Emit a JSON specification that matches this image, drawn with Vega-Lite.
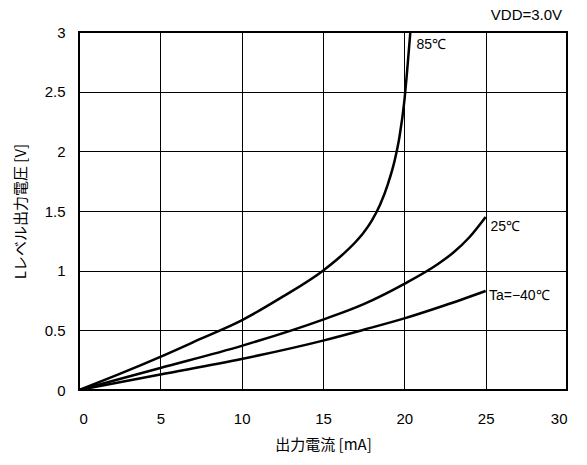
{
  "$schema": "https://vega.github.io/schema/vega-lite/v6.json",
  "width": 488,
  "height": 358,
  "autosize": "none",
  "padding": {"left": 79, "top": 32, "right": 20, "bottom": 75},
  "background": "white",
  "config": {
    "view": {"stroke": "black", "strokeWidth": 2},
    "axis": {
      "grid": true,
      "gridColor": "black",
      "gridOpacity": 1,
      "gridWidth": 1,
      "domain": false,
      "ticks": false,
      "labelFont": "Liberation Sans",
      "labelFontSize": 15,
      "labelColor": "black",
      "titleFont": "Noto Sans CJK JP",
      "titleFontSize": 15,
      "titleFontWeight": "normal",
      "titleColor": "black"
    }
  },
  "datasets": {
    "curves": [
      {"series": "85", "current": 0, "voltage": 0},
      {"series": "85", "current": 2.5, "voltage": 0.135},
      {"series": "85", "current": 5, "voltage": 0.278},
      {"series": "85", "current": 7.5, "voltage": 0.43},
      {"series": "85", "current": 10, "voltage": 0.584},
      {"series": "85", "current": 12.5, "voltage": 0.78},
      {"series": "85", "current": 15, "voltage": 1.0},
      {"series": "85", "current": 16, "voltage": 1.11},
      {"series": "85", "current": 17, "voltage": 1.24},
      {"series": "85", "current": 17.5, "voltage": 1.32},
      {"series": "85", "current": 18, "voltage": 1.42},
      {"series": "85", "current": 18.5, "voltage": 1.55},
      {"series": "85", "current": 19, "voltage": 1.73},
      {"series": "85", "current": 19.4, "voltage": 1.92},
      {"series": "85", "current": 19.7, "voltage": 2.12},
      {"series": "85", "current": 20, "voltage": 2.42},
      {"series": "85", "current": 20.2, "voltage": 2.72},
      {"series": "85", "current": 20.37, "voltage": 3.0},
      {"series": "25", "current": 0, "voltage": 0},
      {"series": "25", "current": 5, "voltage": 0.185},
      {"series": "25", "current": 10, "voltage": 0.37},
      {"series": "25", "current": 15, "voltage": 0.59},
      {"series": "25", "current": 17.5, "voltage": 0.72},
      {"series": "25", "current": 20, "voltage": 0.89},
      {"series": "25", "current": 22, "voltage": 1.05},
      {"series": "25", "current": 23, "voltage": 1.15},
      {"series": "25", "current": 24, "voltage": 1.28},
      {"series": "25", "current": 25, "voltage": 1.45},
      {"series": "-40", "current": 0, "voltage": 0},
      {"series": "-40", "current": 5, "voltage": 0.13},
      {"series": "-40", "current": 10, "voltage": 0.26},
      {"series": "-40", "current": 15, "voltage": 0.414},
      {"series": "-40", "current": 17.5, "voltage": 0.505},
      {"series": "-40", "current": 20, "voltage": 0.6},
      {"series": "-40", "current": 22.5, "voltage": 0.71},
      {"series": "-40", "current": 25, "voltage": 0.83}
    ],
    "notes": [
      {"text": "85℃", "current": 20.75, "voltage": 2.89, "anchor": "left"},
      {"text": "25℃", "current": 25.3, "voltage": 1.37, "anchor": "left"},
      {"text": "Ta=−40℃", "current": 25.2, "voltage": 0.79, "anchor": "left"},
      {"text": "VDD=3.0V", "current": 29.7, "voltage": 3.14, "anchor": "right"}
    ]
  },
  "layer": [
    {
      "data": {"name": "curves"},
      "mark": {"type": "line", "color": "black", "strokeWidth": 2.5, "clip": true, "interpolate": "monotone"},
      "encoding": {
        "x": {
          "field": "current",
          "type": "quantitative",
          "scale": {"domain": [0, 30], "nice": false},
          "axis": {
            "values": [0, 5, 10, 15, 20, 25, 30],
            "format": "~g",
            "labelPadding": 21,
            "title": "出力電流 [mA]",
            "titlePadding": 11
          }
        },
        "y": {
          "field": "voltage",
          "type": "quantitative",
          "scale": {"domain": [0, 3], "nice": false},
          "axis": {
            "values": [0, 0.5, 1, 1.5, 2, 2.5, 3],
            "format": "~g",
            "labelPadding": 14,
            "title": "Lレベル出力電圧 [V]",
            "titlePadding": 16
          }
        },
        "detail": {"field": "series", "type": "nominal"},
        "order": {"field": "current", "type": "quantitative"}
      }
    },
    {
      "data": {"name": "notes"},
      "transform": [{"filter": "datum.anchor === 'left'"}],
      "mark": {"type": "text", "align": "left", "baseline": "middle", "font": "Liberation Sans", "fontSize": 14, "color": "black"},
      "encoding": {
        "x": {"field": "current", "type": "quantitative"},
        "y": {"field": "voltage", "type": "quantitative"},
        "text": {"field": "text"}
      }
    },
    {
      "data": {"name": "notes"},
      "transform": [{"filter": "datum.anchor === 'right'"}],
      "mark": {"type": "text", "align": "right", "baseline": "middle", "font": "Liberation Sans", "fontSize": 15, "color": "black"},
      "encoding": {
        "x": {"field": "current", "type": "quantitative"},
        "y": {"field": "voltage", "type": "quantitative"},
        "text": {"field": "text"}
      }
    }
  ]
}
